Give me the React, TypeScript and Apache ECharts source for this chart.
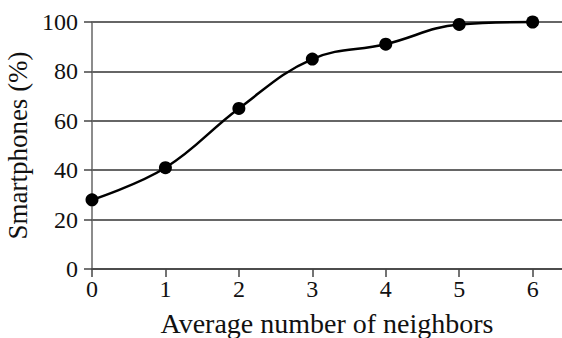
import React, { useEffect, useRef } from "react";
import * as echarts from "echarts";

const neighbors = [0, 1, 2, 3, 4, 5, 6];
const smartphones = [28, 41, 65, 85, 91, 99, 100];
const yTicks = [0, 20, 40, 60, 80, 100];

export default function App() {
  const ref = useRef<HTMLDivElement>(null);
  useEffect(() => {
    if (!ref.current) return;
    const chart = echarts.init(ref.current, null, { renderer: "svg" });
    const font = "'Liberation Serif', 'Times New Roman', serif";
    chart.setOption({
      animation: false,
      backgroundColor: "#fff",
      grid: { left: 92, right: 0, top: 22, bottom: 69, containLabel: false, outerBoundsMode: "none" },
      xAxis: {
        type: "value",
        min: 0,
        max: 6.4,
        interval: 1,
        name: "Average number of neighbors",
        nameLocation: "middle",
        nameGap: 40,
        nameTextStyle: { fontFamily: font, fontSize: 28, color: "#111" },
        axisLine: { show: true, lineStyle: { color: "#444", width: 1.5 } },
        axisTick: { show: true, length: 8, inside: false, lineStyle: { color: "#444", width: 1.5 } },
        axisLabel: {
          fontFamily: font,
          fontSize: 24,
          color: "#111",
          margin: 8,
          showMaxLabel: false,
          formatter: (v: number) => (Number.isInteger(v) ? String(v) : ""),
        },
        splitLine: { show: false },
      },
      yAxis: {
        type: "value",
        min: yTicks[0],
        max: yTicks[yTicks.length - 1],
        interval: 20,
        name: "Smartphones (%)",
        nameLocation: "middle",
        nameGap: 58,
        nameTextStyle: { fontFamily: font, fontSize: 27, color: "#111" },
        axisLine: { show: true, lineStyle: { color: "#666", width: 1.5 } },
        axisTick: { show: true, length: 8, lineStyle: { color: "#444", width: 1.5 } },
        axisLabel: { fontFamily: font, fontSize: 24, color: "#111", margin: 14 },
        splitLine: { show: true, lineStyle: { color: "#333", width: 1.5 } },
      },
      series: [
        {
          type: "line",
          data: neighbors.map((x, i) => [x, smartphones[i]]),
          smooth: 0.4,
          symbol: "circle",
          symbolSize: 13,
          lineStyle: { color: "#000", width: 2.5 },
          itemStyle: { color: "#000" },
          clip: false,
        },
      ],
    });
    return () => chart.dispose();
  }, []);
  return <div ref={ref} style={{ width: 562, height: 338, position: "absolute", left: 0, top: 0 }} />;
}
